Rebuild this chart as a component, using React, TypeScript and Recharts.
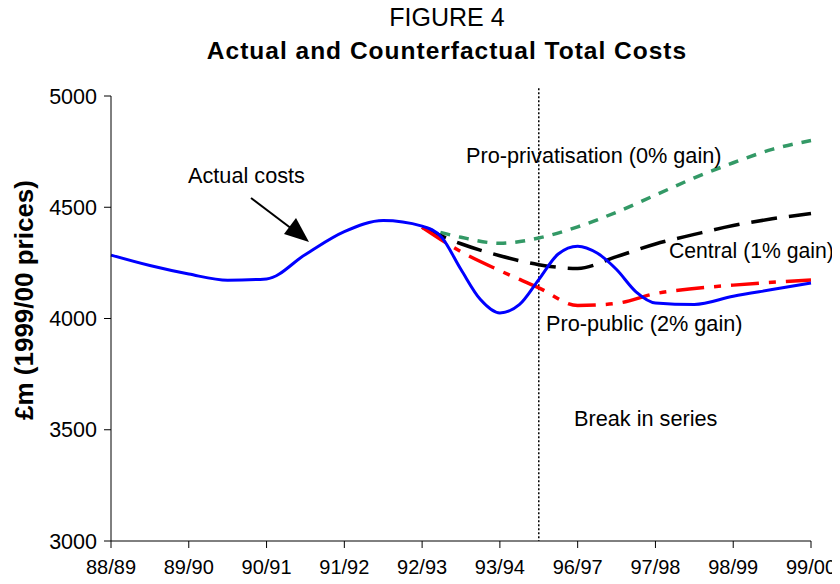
import React from 'react';
import { LineChart, Line, XAxis, YAxis, ReferenceLine } from 'recharts';

// x positions are in "label units": 0 = 88/89 ... 9 = 99/00 (the axis skips 94/95 and 95/96)
const periodLabels = ['88/89', '89/90', '90/91', '91/92', '92/93', '93/94', '96/97', '97/98', '98/99', '99/00'];
const periodTicks = [0, 1, 2, 3, 4, 5, 6, 7, 8, 9];
const yTicks = [3000, 3500, 4000, 4500, 5000];

const actualPeriods = [0, 0.5, 1, 1.5, 2, 2.5, 3, 3.5, 4, 4.25, 4.5, 4.75, 5, 5.25, 5.5, 5.75, 6, 6.25, 6.5, 6.75, 7, 7.5, 8, 8.5, 9];
const actualCosts = [4285, 4238, 4200, 4172, 4178, 4288, 4390, 4440, 4415, 4365, 4220, 4085, 4025, 4062, 4175, 4290, 4325, 4294, 4220, 4120, 4070, 4063, 4100, 4130, 4160];

const counterPeriods = [4, 4.5, 5, 5.5, 6, 6.5, 7, 7.5, 8, 8.5, 9];
const proPrivatisation = [4410, 4365, 4338, 4362, 4412, 4478, 4555, 4632, 4700, 4760, 4800];
const central = [4410, 4336, 4282, 4242, 4225, 4278, 4335, 4378, 4418, 4448, 4472];
const proPublic = [4410, 4300, 4215, 4138, 4058, 4068, 4112, 4135, 4150, 4163, 4173];

const toRows = (xs: number[], ys: number[]) => xs.map((x, i) => ({ period: x, value: ys[i] }));

const actualData = toRows(actualPeriods, actualCosts);
const privData = toRows(counterPeriods, proPrivatisation);
const centralData = toRows(counterPeriods, central);
const publicData = toRows(counterPeriods, proPublic);

const FONT = '"Liberation Sans", Arial, sans-serif';

const App: React.FC = () => {
    return (
        <div style={{ position: 'relative', width: 840, height: 584, margin: -8, fontFamily: FONT, background: '#fff' }}>
            <LineChart width={840} height={584} margin={{ top: 96, right: 29, bottom: 5, left: 51 }}>
                <XAxis
                    type="number"
                    dataKey="period"
                    domain={[0, 9]}
                    ticks={periodTicks}
                    interval={0}
                    tickFormatter={(v: number) => periodLabels[v]}
                    tick={{ fill: '#000', fontSize: 20, fontFamily: FONT }}
                    tickSize={7}
                    tickMargin={12}
                    height={38}
                    stroke="#000"
                    allowDuplicatedCategory={false}
                />
                <YAxis
                    type="number"
                    domain={[3000, 5000]}
                    ticks={yTicks}
                    interval={0}
                    tick={{ fill: '#000', fontSize: 21.5, fontFamily: FONT }}
                    tickSize={7}
                    tickMargin={7}
                    width={60}
                    stroke="#000"
                />
                <ReferenceLine
                    segment={[{ x: 5.5, y: 5035 }, { x: 5.5, y: 3000 }]}
                    ifOverflow="visible"
                    stroke="#000"
                    strokeWidth={1.5}
                    strokeDasharray="2 2"
                />
                <Line data={privData} dataKey="value" type="monotone" stroke="#339966" strokeWidth={3.5}
                    strokeDasharray="10 9" dot={false} isAnimationActive={false} />
                <Line data={centralData} dataKey="value" type="monotone" stroke="#000" strokeWidth={3.5}
                    strokeDasharray="26 12" dot={false} isAnimationActive={false} />
                <Line data={publicData} dataKey="value" type="monotone" stroke="#ff0000" strokeWidth={3.5}
                    strokeDasharray="28 10 7 10" dot={false} isAnimationActive={false} />
                <Line data={actualData} dataKey="value" type="monotone" stroke="#0000ff" strokeWidth={3}
                    dot={false} isAnimationActive={false} />
            </LineChart>

            {/* titles, annotations and the axis title sit on top */}
            <svg width={840} height={584} style={{ position: 'absolute', left: 0, top: 0, pointerEvents: 'none' }}
                fontFamily={FONT}>
                <text x={447} y={26} textAnchor="middle" fontSize={25}>FIGURE 4</text>
                <text x={447} y={59} textAnchor="middle" fontSize={24.5} fontWeight="bold" letterSpacing={1}>
                    Actual and Counterfactual Total Costs
                </text>
                <text transform="translate(33,300) rotate(-90)" textAnchor="middle" fontSize={26} fontWeight="bold">
                    £m (1999/00 prices)
                </text>

                <text x={188} y={183} fontSize={21.7}>Actual costs</text>
                <line x1={251} y1={198} x2={292} y2={229} stroke="#000" strokeWidth={2} />
                <polygon points="309,242 284,234 296,218" fill="#000" />

                <text x={466} y={163} fontSize={21.7}>Pro-privatisation (0% gain)</text>
                <text x={669} y={258} fontSize={21.2}>Central (1% gain)</text>
                <text x={546} y={331} fontSize={21.7}>Pro-public (2% gain)</text>
                <text x={574} y={426} fontSize={21.7}>Break in series</text>
            </svg>
        </div>
    );
};

export default App;
